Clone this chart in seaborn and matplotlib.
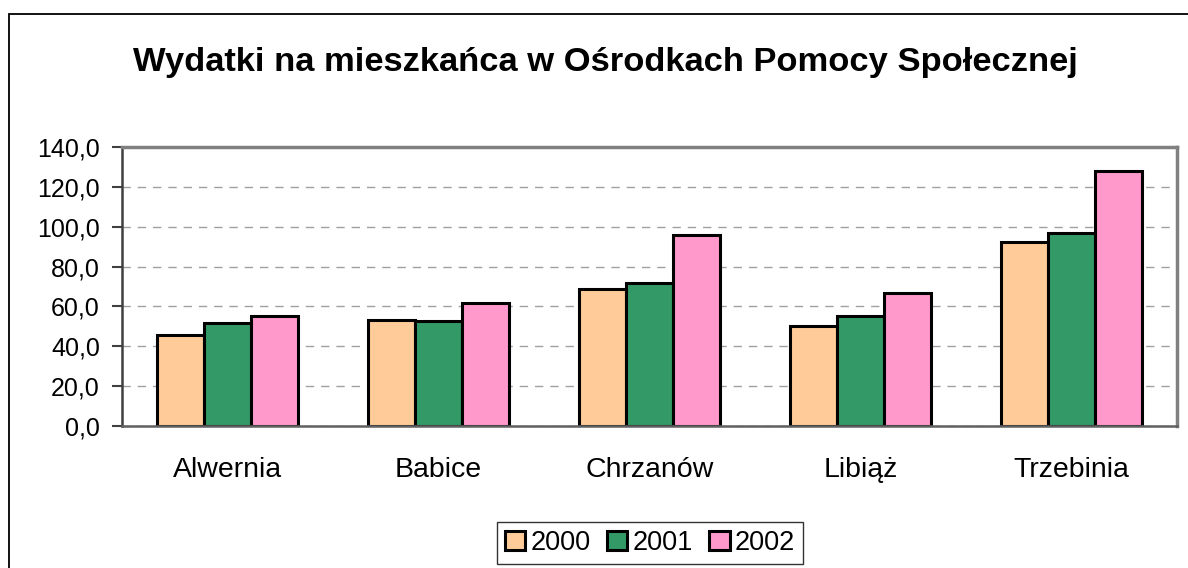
import pandas as pd
import seaborn as sns
import matplotlib.pyplot as plt
from matplotlib.patches import Rectangle
from matplotlib.ticker import FixedLocator, FuncFormatter

gminy = ["Alwernia", "Babice", "Chrzanów", "Libiąż", "Trzebinia"]
lata = ["2000", "2001", "2002"]
w2000 = [45.8, 53.1, 68.7, 50.3, 92.2]
w2001 = [51.8, 52.8, 72.0, 55.0, 96.6]
w2002 = [55.2, 61.5, 95.9, 66.8, 128.2]
kolory = ["#FFCC99", "#339966", "#FF99CC"]

df = pd.DataFrame({
    "Gmina": gminy * 3,
    "Rok": [r for r in lata for _ in gminy],
    "Wartosc": w2000 + w2001 + w2002,
})

sns.set_style("white")
plt.rcParams["font.family"] = ["Liberation Sans", "DejaVu Sans"]
plt.rcParams["text.color"] = "black"
plt.rcParams["xtick.labelcolor"] = "black"
plt.rcParams["ytick.labelcolor"] = "black"

fig = plt.figure(figsize=(11.88, 5.68), dpi=100)
ax = fig.add_axes([122 / 1188, 1 - 426 / 568, (1177 - 122) / 1188, (426 - 147) / 568])

sns.barplot(data=df, x="Gmina", y="Wartosc", hue="Rok", order=gminy, hue_order=lata,
            palette=kolory, width=0.67, edgecolor="black", linewidth=2.2,
            saturation=1, ax=ax, legend=True)

ax.set_xlim(-0.5, 4.5)
ax.set_ylim(0, 140)
ax.set_yticks(range(0, 141, 20))
ax.yaxis.set_major_formatter(FuncFormatter(lambda v, p: f"{v:.1f}".replace(".", ",")))
ax.yaxis.grid(True, linestyle=(0, (6, 5)), color="#a0a0a0", linewidth=1)
ax.set_axisbelow(True)

ax.xaxis.set_major_locator(FixedLocator([i - 0.5 for i in range(6)]))
ax.xaxis.set_minor_locator(FixedLocator(range(5)))
ax.set_xticklabels([], minor=False)
ax.set_xticklabels(gminy, minor=True)
ax.tick_params(axis="x", which="major", direction="out", length=7, width=1.5, color="#606060")
ax.tick_params(axis="x", which="minor", length=0, pad=22, labelsize=20.5, labelcolor="black")
ax.tick_params(axis="y", direction="out", length=7, width=1.5, color="#404040",
               pad=9, labelsize=18, left=True, labelcolor="black")
ax.set_xlabel("")
ax.set_ylabel("")

for s in ["top", "right"]:
    ax.spines[s].set_color("#808080")
    ax.spines[s].set_linewidth(2.5)
ax.spines["bottom"].set_color("#606060")
ax.spines["bottom"].set_linewidth(1.8)
ax.spines["left"].set_color("#404040")
ax.spines["left"].set_linewidth(1.8)

h, l = ax.get_legend_handles_labels()
ax.legend_.remove()
leg = fig.legend(h, l, loc="center", bbox_to_anchor=(650 / 1188, 1 - 543 / 568), ncol=3,
                 fontsize=19.5, frameon=True, fancybox=False, edgecolor="black",
                 handlelength=0.75, handleheight=0.75, handletextpad=0.2,
                 columnspacing=0.6, borderpad=0.3, borderaxespad=0)
leg.get_frame().set_linewidth(1)
for t in leg.get_texts():
    t.set_color("black")

fig.text(605 / 1188, 1 - 62 / 568, "Wydatki na mieszkańca w Ośrodkach Pomocy Społecznej",
         ha="center", va="center", fontsize=24.8, fontweight="bold", color="black")

fig.patches.append(Rectangle((9 / 1188, -0.05), 1.2, 1 - 14 / 568 + 0.05,
                             transform=fig.transFigure, fill=False, edgecolor="black",
                             linewidth=1.3))

fig.savefig("out.png", dpi=100)
